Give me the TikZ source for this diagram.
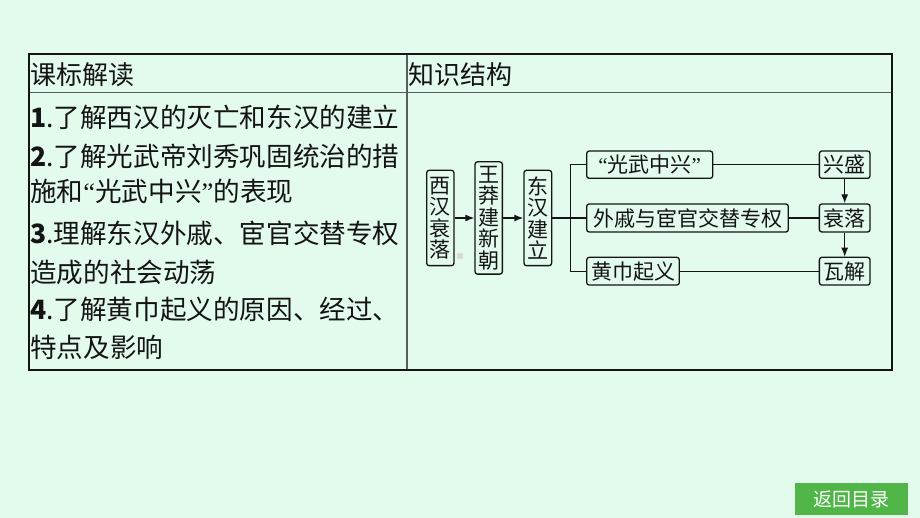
\documentclass[tikz,border=0pt]{standalone}
\usepackage{fontspec}
\setmainfont{Liberation Serif}
\newfontfamily\cjk{Noto Sans CJK SC}
\usetikzlibrary{arrows.meta}
\definecolor{bgmint}{RGB}{227,251,236}
\definecolor{btngreen}{RGB}{80,182,72}
\definecolor{gridgray}{RGB}{85,95,90}
\definecolor{ink}{RGB}{20,20,20}
\tikzset{
  txtline/.style={anchor=base west,inner sep=0pt,font=\cjk\fontsize{26.6}{26.6}\selectfont,text=ink},
  hdr/.style={anchor=base west,inner sep=0pt,font=\cjk\fontsize{26}{26}\selectfont,text=ink},
  kbox/.style={draw=ink,line width=1.3pt,rounded corners=2.5pt,inner sep=0pt,fill=bgmint,font=\cjk\fontsize{21}{21.5}\selectfont,text=ink,align=center},
  conn/.style={draw=ink,line width=1.3pt},
  arr/.style={conn,-{Latex[length=9pt,width=7pt]}}
}
\begin{document}
\begin{tikzpicture}[x=1pt,y=-1pt]
\useasboundingbox (0,0) rectangle (920,518);
\fill[bgmint] (0,0) rectangle (920,518);
% table
\draw[gridgray,line width=1.3pt] (29,92.7) -- (891.5,92.7);
\draw[gridgray,line width=1.3pt] (407,54) -- (407,370);
\draw[ink,line width=2pt] (29,54) rectangle (891.5,370);
% headers
\node[hdr] (h1) at (30,84.5) {课标解读};
\node[hdr] (h2) at (408,84.5) {知识结构};
% left text
\node[txtline] (l1) at (30,127.6) {\textbf{1}.了解西汉的灭亡和东汉的建立};
\node[txtline] (l2) at (30,166.1) {\textbf{2}.了解光武帝刘秀巩固统治的措};
\node[txtline] (l3) at (30,201.1) {施和{\rmfamily“}光武中兴{\rmfamily”}的表现};
\node[txtline] (l4) at (30,243.1) {\textbf{3}.理解东汉外戚、宦官交替专权};
\node[txtline] (l5) at (30,282.1) {造成的社会动荡};
\node[txtline] (l6) at (30,319.1) {\textbf{4}.了解黄巾起义的原因、经过、};
\node[txtline] (l7) at (30,357.1) {特点及影响};
% diagram
\node[kbox,minimum width=27.3pt,minimum height=95.3pt] (A) at (440.3,218) {西\\汉\\衰\\落};
\node[kbox,minimum width=27.3pt,minimum height=112.3pt] (B) at (488.7,218) {王\\莽\\建\\新\\朝};
\node[kbox,minimum width=27.7pt,minimum height=95.3pt] (C) at (537.8,218) {东\\汉\\建\\立};
\node[kbox,minimum width=126pt,minimum height=27.3pt] (D) at (649.7,164.7) {{\rmfamily“}光武中兴{\rmfamily”}};
\node[kbox,minimum width=201.6pt,minimum height=28pt] (E) at (687.5,218) {外戚与宦官交替专权};
\node[kbox,minimum width=92.6pt,minimum height=27.7pt] (F) at (633,271.2) {黄巾起义};
\node[kbox,minimum width=50.7pt,minimum height=27.3pt] (G) at (844.7,164.7) {兴盛};
\node[kbox,minimum width=50.7pt,minimum height=28pt] (H) at (844.7,218) {衰落};
\node[kbox,minimum width=50.7pt,minimum height=27.7pt] (I) at (844.7,271.2) {瓦解};
\coordinate (J) at (570.7,218);
\draw[arr] (A) -- (B);
\draw[arr] (B) -- (C);
\draw[conn] (C) -- (E);
\draw[conn] (D.west) -| (J) |- (F.west);
\draw[conn] (D) -- (G);
\draw[conn] (E) -- (H);
\draw[conn] (F) -- (I);
\draw[arr] (G) -- (H);
\draw[arr] (H) -- (I);
% small gray mark
\fill[gray!30] (457,252.7) rectangle (463,258.7);
% return button
\node[fill=btngreen,minimum width=113pt,minimum height=32pt,inner sep=0pt,text=white,font=\cjk\fontsize{19}{19}\selectfont] (btn) at (851.5,499) {返回目录};
\end{tikzpicture}
\end{document}
